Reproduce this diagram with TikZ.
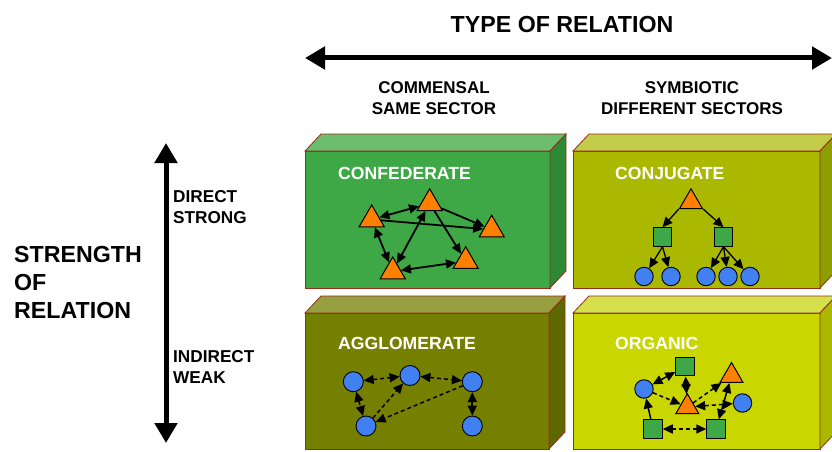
\documentclass[tikz,border=0pt]{standalone}
\usepackage{fontspec}
\setmainfont{Liberation Sans}
\usetikzlibrary{arrows.meta,shapes.geometric}

% block colours: front / top / side
\definecolor{cfFront}{RGB}{61,168,69}
\definecolor{cfTop}{RGB}{108,189,110}
\definecolor{cfSide}{RGB}{44,138,52}
\definecolor{cjFront}{RGB}{170,185,0}
\definecolor{cjTop}{RGB}{194,204,72}
\definecolor{cjSide}{RGB}{140,158,0}
\definecolor{agFront}{RGB}{118,128,0}
\definecolor{agTop}{RGB}{150,160,64}
\definecolor{agSide}{RGB}{94,104,0}
\definecolor{orFront}{RGB}{201,214,0}
\definecolor{orTop}{RGB}{214,224,76}
\definecolor{orSide}{RGB}{170,184,0}
\definecolor{edgeRed}{RGB}{150,45,25}
\definecolor{firmOrange}{RGB}{255,128,0}
\definecolor{firmGreen}{RGB}{61,168,69}
\definecolor{firmBlue}{RGB}{64,128,240}

\tikzset{
  tri/.style={regular polygon, regular polygon sides=3, draw=black, fill=firmOrange,
    line width=1pt, inner sep=0pt, minimum size=29pt},
  smalltri/.style={tri, minimum size=26.5pt},
  sq/.style={rectangle, draw=black, fill=firmGreen, line width=1pt,
    minimum size=18.5pt, inner sep=0pt},
  dot/.style={circle, draw=black, fill=firmBlue, line width=0.9pt,
    minimum size=18.5pt, inner sep=0pt},
  bigdot/.style={dot, minimum size=20pt},
  tip/.tip={Triangle[length=10pt,width=9pt]},
  link/.style={line width=1.8pt, -tip},
  dlink/.style={line width=1.8pt, tip-tip},
  thinlink/.style={line width=1.3pt, -tip},
  dashlink/.style={line width=1.5pt, -tip, dash pattern=on 4pt off 3pt},
  ddashlink/.style={line width=1.5pt, tip-tip, dash pattern=on 4pt off 3pt},
  bigarrow/.style={line width=5pt,
    {Triangle[length=20pt,width=22pt]}-{Triangle[length=20pt,width=22pt]}},
  blocklabel/.style={anchor=west, text=white, font=\fontsize{17.6}{20}\selectfont\bfseries,
    inner sep=0pt},
  caption/.style={align=center, font=\fontsize{17}{21.5}\selectfont\bfseries, inner sep=0pt},
  sidecap/.style={align=left, anchor=west, font=\fontsize{17.2}{20.5}\selectfont\bfseries, inner sep=0pt},
  title/.style={font=\fontsize{23.2}{28}\selectfont\bfseries, inner sep=0pt},
}

% a 3-D block: x0, y0, x1, y1 of the front face; front, top and side colours
\newcommand\slab[7]{%
  \filldraw[fill=#5, draw=edgeRed, line width=0.8pt] (#1,#2) rectangle (#3,#4);
  \filldraw[fill=#6, draw=edgeRed, line width=0.8pt]
    (#1,#2) -- ++(16,-17) -- (#3+16,#2-17) -- (#3,#2) -- cycle;
  \filldraw[fill=#7, draw=edgeRed, line width=0.8pt]
    (#3,#2) -- (#3+16,#2-17) -- (#3+16,#4-17) -- (#3,#4) -- cycle;
}

\begin{document}
\begin{tikzpicture}[x=1pt, y=-1pt]
\useasboundingbox (0,0) rectangle (832,452);
\clip (0,0) rectangle (832,452);

% axes
\node[title] (tlabel) at (562,25) {TYPE OF RELATION};
\coordinate (hL) at (305,58);
\coordinate (hR) at (832,58);
\draw[bigarrow] (hL) -- (hR);
\node[caption] (comm) at (434,98) {COMMENSAL\\SAME SECTOR};
\node[caption] (symb) at (692,98) {SYMBIOTIC\\DIFFERENT SECTORS};

\coordinate (vT) at (166,143);
\coordinate (vB) at (166,443);
\draw[bigarrow] (vT) -- (vB);
\node[title, align=left, anchor=west] (slabel) at (14,283) {STRENGTH\\OF\\RELATION};
\node[sidecap] (direct) at (173,207) {DIRECT\\STRONG};
\node[sidecap] (indirect) at (173,367) {INDIRECT\\WEAK};

% the four blocks
\slab{305}{151}{550}{288}{cfFront}{cfTop}{cfSide}
\slab{573}{151}{820}{288}{cjFront}{cjTop}{cjSide}
\slab{305}{313}{549}{449}{agFront}{agTop}{agSide}
\slab{573}{313}{820}{449}{orFront}{orTop}{orSide}

\node[blocklabel] (lcf) at (338,173) {CONFEDERATE};
\node[blocklabel] (lcj) at (615,173) {CONJUGATE};
\node[blocklabel] (lag) at (338,343) {AGGLOMERATE};
\node[blocklabel] (lor) at (615,343) {ORGANIC};

% confederate
\node[tri] (cA) at (429.7,203.3) {};
\node[tri] (cB) at (371.7,219.5) {};
\node[tri] (cC) at (491.7,229.7) {};
\node[tri] (cD) at (392.7,271.5) {};
\node[tri] (cE) at (465.7,261.2) {};
\draw[dlink] (cB) -- (cA);
\draw[link] (cB) -- (cC);
\draw[link] (cA) -- (cC);
\draw[dlink] (cA) -- (cD);
\draw[link] (cA) -- (cE);
\draw[dlink] (cD) -- (cE);
\draw[dlink] (cB) -- (cD);

% conjugate
\node[smalltri] (jT) at (691,202) {};
\node[sq] (jS1) at (662.5,237) {};
\node[sq] (jS2) at (723.5,237) {};
\node[dot] (jK1) at (644,276.5) {};
\node[dot] (jK2) at (671,276.5) {};
\node[dot] (jK3) at (706,276.5) {};
\node[dot] (jK4) at (728,276.5) {};
\node[dot] (jK5) at (750,276.5) {};
\draw[thinlink] (jT.corner 2) -- (jS1.north);
\draw[thinlink] (jT.corner 3) -- (jS2.north);
\draw[thinlink] (jS1.south) -- (jK1);
\draw[thinlink] (jS1.south) -- (jK2);
\draw[thinlink] (jS2.south) -- (jK3);
\draw[thinlink] (jS2.south) -- (jK4);
\draw[thinlink] (jS2.south) -- (jK5);

% agglomerate
\node[bigdot] (gA) at (353.3,381.7) {};
\node[bigdot] (gB) at (410,375.5) {};
\node[bigdot] (gC) at (472.3,381.7) {};
\node[bigdot] (gD) at (366,426) {};
\node[bigdot] (gE) at (472.3,426) {};
\draw[ddashlink] (gA) -- (gB);
\draw[ddashlink] (gB) -- (gC);
\draw[dashlink] (gD) -- (gB);
\draw[ddashlink] (gA) -- (gD);
\draw[dashlink] (gC) -- (gD);
\draw[dlink] (gC) -- (gE);

% organic
\node[sq] (oQ1) at (685,366.7) {};
\node[dot] (oP1) at (644,389) {};
\node[smalltri] (oR1) at (731.5,375.8) {};
\node[smalltri] (oR2) at (687.3,407) {};
\node[dot] (oP2) at (742.5,403) {};
\node[sq] (oQ2) at (653,429) {};
\node[sq] (oQ3) at (716,429) {};
\draw[dlink, line width=1.5pt] (oQ1) -- (oP1);
\draw[dlink, line width=1.5pt] (oQ1) -- (oR2);
\draw[dashlink] (oP1) -- (oR2);
\draw[dashlink] (oR2) -- (oR1);
\draw[ddashlink] (oR2) -- (oP2);
\draw[dlink, line width=1.5pt] (oR1) -- (oQ3);
\draw[link, line width=1.5pt] (oQ2) -- (oP1);
\draw[ddashlink] (oQ2) -- (oQ3);
\end{tikzpicture}
\end{document}
